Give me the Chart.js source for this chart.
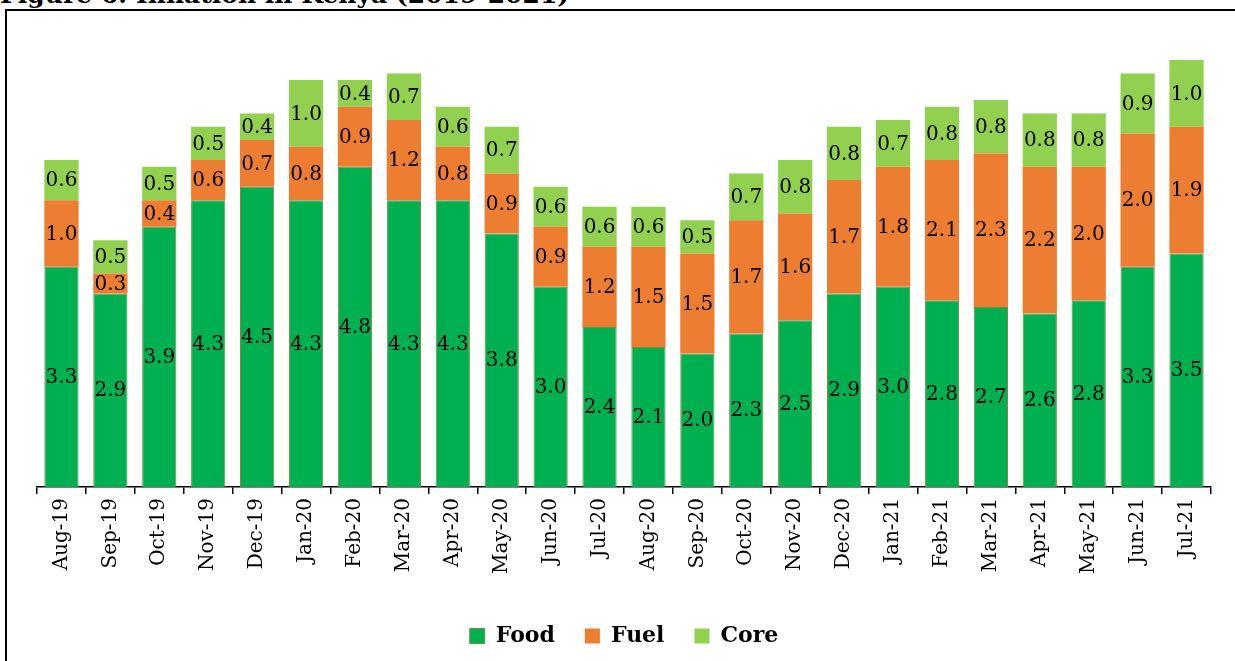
<!DOCTYPE html>
<html>
<head>
<meta charset="utf-8">
<script src="https://cdn.jsdelivr.net/npm/chart.js@4"></script>
<style>
    body { margin: 0; background: #fff; overflow: hidden; }
    #title {
        position: absolute; left: 0; top: -20px;
        font: bold 25px "DejaVu Serif", serif; color: #000; white-space: nowrap;
    }
    #frame {
        position: absolute; left: 5px; top: 9px; width: 1300px; height: 700px;
        border: 2px solid #000; box-sizing: border-box;
    }
    #wrap { position: absolute; left: 0; top: 0; width: 1235px; height: 661px; }
</style>
</head>
<body>
<div id="title">Figure 6: Inflation in Kenya (2019-2021)</div>
<div id="frame"></div>
<div id="wrap"><canvas id="chartCanvas"></canvas></div>
<script>
const months = ['Aug-19', 'Sep-19', 'Oct-19', 'Nov-19', 'Dec-19', 'Jan-20', 'Feb-20', 'Mar-20',
    'Apr-20', 'May-20', 'Jun-20', 'Jul-20', 'Aug-20', 'Sep-20', 'Oct-20', 'Nov-20',
    'Dec-20', 'Jan-21', 'Feb-21', 'Mar-21', 'Apr-21', 'May-21', 'Jun-21', 'Jul-21'];
const food = [3.3, 2.9, 3.9, 4.3, 4.5, 4.3, 4.8, 4.3, 4.3, 3.8, 3.0, 2.4,
    2.1, 2.0, 2.3, 2.5, 2.9, 3.0, 2.8, 2.7, 2.6, 2.8, 3.3, 3.5];
const fuel = [1.0, 0.3, 0.4, 0.6, 0.7, 0.8, 0.9, 1.2, 0.8, 0.9, 0.9, 1.2,
    1.5, 1.5, 1.7, 1.6, 1.7, 1.8, 2.1, 2.3, 2.2, 2.0, 2.0, 1.9];
const core = [0.6, 0.5, 0.5, 0.5, 0.4, 1.0, 0.4, 0.7, 0.6, 0.7, 0.6, 0.6,
    0.6, 0.5, 0.7, 0.8, 0.8, 0.7, 0.8, 0.8, 0.8, 0.8, 0.9, 1.0];

// writes the value in the middle of every bar segment
const segmentLabels = {
    id: 'segmentLabels',
    afterDatasetsDraw(chart) {
        const ctx = chart.ctx;
        ctx.save();
        ctx.font = '20px "DejaVu Serif", serif';
        ctx.fillStyle = '#000';
        ctx.textAlign = 'center';
        ctx.textBaseline = 'middle';
        chart.data.datasets.forEach((ds, i) => {
            chart.getDatasetMeta(i).data.forEach((bar, j) => {
                const y = (bar.y + bar.base) / 2 + 1;
                ctx.fillText(ds.data[j].toFixed(1), bar.x, y);
            });
        });
        ctx.restore();
    }
};

const ctx = document.getElementById('chartCanvas').getContext('2d');
new Chart(ctx, {
    type: 'bar',
    data: {
        labels: months,
        datasets: [
            { label: 'Food', data: food, backgroundColor: '#00b050', borderColor: '#6f8f3d', borderWidth: 1 },
            { label: 'Fuel', data: fuel, backgroundColor: '#ed7d31', borderWidth: 0 },
            { label: 'Core', data: core, backgroundColor: '#92d050', borderWidth: 0 }
        ]
    },
    options: {
        responsive: true,
        maintainAspectRatio: false,
        animation: false,
        categoryPercentage: 1,
        barPercentage: 0.7,
        layout: { padding: { left: 37, right: 24, top: 0, bottom: 4 } },
        plugins: {
            legend: {
                position: 'bottom',
                labels: {
                    color: '#000',
                    font: { family: '"DejaVu Serif", serif', size: 22, weight: 'bold' },
                    boxWidth: 15,
                    boxHeight: 15,
                    padding: 30
                }
            },
            tooltip: { enabled: false }
        },
        scales: {
            x: {
                stacked: true,
                afterFit: function(scale) {
                    scale.height = 108;
                },
                grid: {
                    offset: true,
                    drawOnChartArea: false,
                    color: '#000',
                    tickLength: 7,
                    lineWidth: 1.5
                },
                border: { display: true, color: '#000', width: 1.5 },
                ticks: {
                    color: '#000',
                    font: { family: '"DejaVu Serif", serif', size: 20 },
                    minRotation: 90,
                    maxRotation: 90,
                    autoSkip: false,
                    padding: 4
                }
            },
            y: {
                stacked: true,
                display: false,
                min: 0,
                max: 7.3
            }
        }
    },
    plugins: [segmentLabels]
});
</script>
</body>
</html>
